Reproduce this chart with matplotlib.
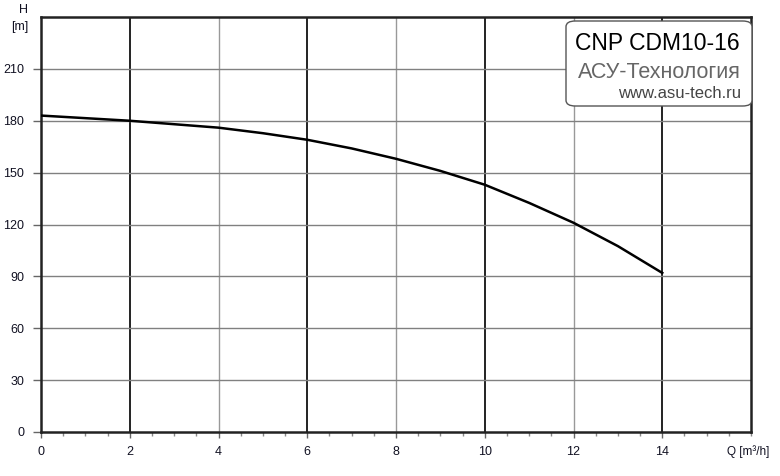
import matplotlib.pyplot as plt
from matplotlib.patches import FancyBboxPatch
import numpy as np

plt.rcParams['font.family'] = ['Liberation Sans', 'DejaVu Sans']

# Datos de la curva Q-H
caudal = [0, 1, 2, 3, 4, 5, 6, 7, 8, 9, 10, 11, 12, 13, 14]
altura = [183, 181.5, 180, 178, 176, 172.8, 169, 164, 158, 151, 143, 132.5, 121, 107.5, 92]

x_ticks = [0, 2, 4, 6, 8, 10, 12, 14]
y_ticks = [0, 30, 60, 90, 120, 150, 180, 210]

fig = plt.figure(figsize=(7.8, 4.76), dpi=100)
ax = fig.add_axes([41 / 780, 1 - 432 / 476, 710 / 780, 415 / 476])
ax.set_xlim(0, 16)
ax.set_ylim(0, 240)

# Rejilla
for x in x_ticks[1:]:
    if x in (2, 6, 10, 14):
        ax.axvline(x, color='#222222', lw=1.4, zorder=1)
    else:
        ax.axvline(x, color='#999999', lw=1.0, zorder=1)
for y in y_ticks[1:]:
    ax.axhline(y, color='#808080', lw=1.0, zorder=1)

ax.plot(caudal, altura, color='black', lw=1.8, zorder=3)

for s in ax.spines.values():
    s.set_color('#222222')
    s.set_linewidth(1.8)

ax.set_xticks(x_ticks)
ax.set_yticks(y_ticks)
ax.set_xticks(np.arange(0, 16.01, 0.5), minor=True)
ax.tick_params(axis='x', which='major', length=4, width=1, color='#666666',
               labelsize=9, labelcolor='#111122', pad=6)
ax.tick_params(axis='x', which='minor', length=3, width=1, color='#888888')
ax.tick_params(axis='y', which='major', length=6, width=1, color='#666666',
               labelsize=9, labelcolor='#111122', pad=6)

fig.text(24 / 780, 1 - 4 / 476, 'H', fontsize=9, ha='center', va='top', color='#111122')
fig.text(20 / 780, 1 - 27 / 476, '[m]', fontsize=9, ha='center', va='center', color='#111122')
fig.text(748 / 780, 1 - 452 / 476, 'Q [m³/h]', fontsize=8.5, ha='center', va='center', color='#111122')

# Recuadro con el nombre
box = FancyBboxPatch((566 / 780, 1 - 106 / 476), 186 / 780, 85 / 476,
                     boxstyle='round,pad=0,rounding_size=0.012',
                     transform=fig.transFigure, facecolor='white',
                     edgecolor='#555555', lw=1.0, zorder=5)
fig.patches.append(box)
fig.text(657 / 780, 1 - 43 / 476, 'CNP CDM10-16', fontsize=16.5, ha='center',
         va='center', color='black', fontweight='medium', zorder=6)
fig.text(741 / 780, 1 - 73 / 476, 'АСУ-Технология', fontsize=15.5, ha='right',
         va='center', color='#666666', zorder=6)
fig.text(741 / 780, 1 - 93 / 476, 'www.asu-tech.ru', fontsize=12, ha='right',
         va='center', color='#444444', zorder=6)

fig.savefig('out.png', dpi=100)
